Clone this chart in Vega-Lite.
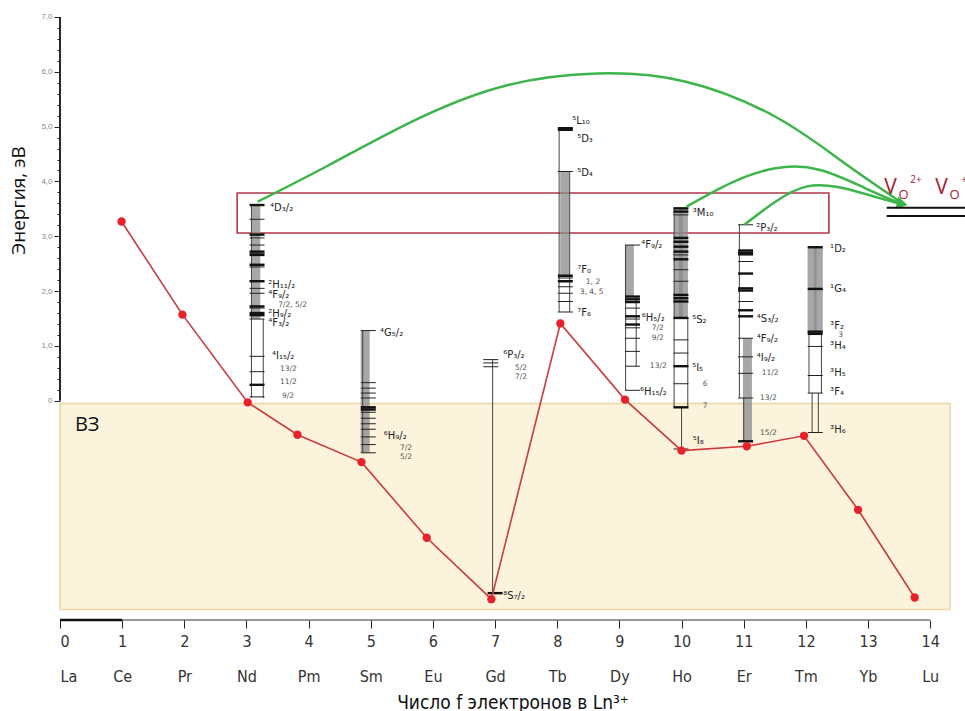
{
  "$schema": "https://vega.github.io/schema/vega-lite/v6.json",
  "width": 905,
  "height": 620,
  "autosize": "none",
  "padding": {"left": 60, "top": 0, "right": 0, "bottom": 91},
  "background": "white",
  "config": {"view": {"stroke": null}},
  "datasets": {
    "pts": [
      {"el": "Ce", "x": 0.99, "y": 3.27},
      {"el": "Pr", "x": 1.97, "y": 1.57},
      {"el": "Nd", "x": 3.02, "y": -0.03},
      {"el": "Pm", "x": 3.82, "y": -0.62},
      {"el": "Sm", "x": 4.85, "y": -1.12},
      {"el": "Eu", "x": 5.9, "y": -2.5},
      {"el": "Gd", "x": 6.94, "y": -3.62},
      {"el": "Tb", "x": 8.05, "y": 1.41},
      {"el": "Dy", "x": 9.09, "y": 0.02},
      {"el": "Ho", "x": 10.0, "y": -0.91},
      {"el": "Er", "x": 11.05, "y": -0.83},
      {"el": "Tm", "x": 11.97, "y": -0.64},
      {"el": "Yb", "x": 12.84, "y": -1.99},
      {"el": "Lu", "x": 13.75, "y": -3.59}
    ],
    "bands": [
      {"el": "Nd", "x": 3.15, "y": 1.49, "y2": 3.57},
      {"el": "Sm", "x": 4.91, "y": -0.95, "y2": 1.28},
      {"el": "Tb", "x": 8.12, "y": 2.28, "y2": 4.18},
      {"el": "Dy", "x": 9.16, "y": 1.9, "y2": 2.84},
      {"el": "Ho", "x": 9.95, "y": 1.51, "y2": 3.51},
      {"el": "Ho", "x": 10.03, "y": 1.51, "y2": 3.51},
      {"el": "Er", "x": 11.06, "y": -0.74, "y2": 1.14},
      {"el": "Tm", "x": 12.1, "y": 1.22, "y2": 2.8},
      {"el": "Tm", "x": 12.2, "y": 1.22, "y2": 2.8}
    ],
    "vlines": [
      {"el": "Nd", "x": 3.08, "y": 0.05, "y2": 3.57},
      {"el": "Nd", "x": 3.27, "y": 0.05, "y2": 1.49},
      {"el": "Sm", "x": 4.87, "y": -0.95, "y2": 1.28},
      {"el": "Gd", "x": 6.96, "y": -3.51, "y2": 0.75},
      {"el": "Tb", "x": 8.03, "y": 1.62, "y2": 4.97},
      {"el": "Tb", "x": 8.2, "y": 1.62, "y2": 4.18},
      {"el": "Dy", "x": 9.1, "y": 0.19, "y2": 2.84},
      {"el": "Dy", "x": 9.27, "y": 0.63, "y2": 1.9},
      {"el": "Ho", "x": 9.88, "y": -0.12, "y2": 3.51},
      {"el": "Ho", "x": 10.1, "y": -0.12, "y2": 1.51},
      {"el": "Ho", "x": 10.0, "y": -0.88, "y2": -0.12},
      {"el": "Er", "x": 10.93, "y": 0.05, "y2": 3.21},
      {"el": "Er", "x": 11.0, "y": -0.74, "y2": 0.05},
      {"el": "Tm", "x": 12.05, "y": 0.14, "y2": 1.26},
      {"el": "Tm", "x": 12.25, "y": 0.14, "y2": 1.26},
      {"el": "Tm", "x": 12.1, "y": -0.58, "y2": 0.14},
      {"el": "Tm", "x": 12.2, "y": -0.58, "y2": 0.14}
    ],
    "levels": [
      {"el": "Nd", "x": 3.17, "y": 3.57, "bold": true},
      {"el": "Nd", "x": 3.17, "y": 3.31, "bold": false},
      {"el": "Nd", "x": 3.17, "y": 3.03, "bold": true},
      {"el": "Nd", "x": 3.17, "y": 2.97, "bold": false},
      {"el": "Nd", "x": 3.17, "y": 2.84, "bold": false},
      {"el": "Nd", "x": 3.17, "y": 2.72, "bold": true},
      {"el": "Nd", "x": 3.17, "y": 2.69, "bold": false},
      {"el": "Nd", "x": 3.17, "y": 2.66, "bold": true},
      {"el": "Nd", "x": 3.17, "y": 2.48, "bold": true},
      {"el": "Nd", "x": 3.17, "y": 2.44, "bold": false},
      {"el": "Nd", "x": 3.17, "y": 2.18, "bold": true},
      {"el": "Nd", "x": 3.17, "y": 2.05, "bold": false},
      {"el": "Nd", "x": 3.17, "y": 1.96, "bold": false},
      {"el": "Nd", "x": 3.17, "y": 1.72, "bold": true},
      {"el": "Nd", "x": 3.17, "y": 1.69, "bold": false},
      {"el": "Nd", "x": 3.17, "y": 1.6, "bold": true},
      {"el": "Nd", "x": 3.17, "y": 1.56, "bold": true},
      {"el": "Nd", "x": 3.17, "y": 1.49, "bold": false},
      {"el": "Nd", "x": 3.17, "y": 0.81, "bold": false},
      {"el": "Nd", "x": 3.17, "y": 0.53, "bold": false},
      {"el": "Nd", "x": 3.17, "y": 0.29, "bold": true},
      {"el": "Nd", "x": 3.17, "y": 0.07, "bold": false},
      {"el": "Sm", "x": 4.96, "y": 1.28, "bold": false},
      {"el": "Sm", "x": 4.96, "y": 0.33, "bold": false},
      {"el": "Sm", "x": 4.96, "y": 0.23, "bold": false},
      {"el": "Sm", "x": 4.96, "y": 0.14, "bold": false},
      {"el": "Sm", "x": 4.96, "y": 0.05, "bold": false},
      {"el": "Sm", "x": 4.96, "y": -0.12, "bold": true},
      {"el": "Sm", "x": 4.96, "y": -0.16, "bold": true},
      {"el": "Sm", "x": 4.96, "y": -0.21, "bold": false},
      {"el": "Sm", "x": 4.96, "y": -0.32, "bold": false},
      {"el": "Sm", "x": 4.96, "y": -0.42, "bold": false},
      {"el": "Sm", "x": 4.96, "y": -0.52, "bold": false},
      {"el": "Sm", "x": 4.96, "y": -0.66, "bold": false},
      {"el": "Sm", "x": 4.96, "y": -0.8, "bold": false},
      {"el": "Sm", "x": 4.96, "y": -0.95, "bold": false},
      {"el": "Gd", "x": 6.93, "y": 0.75, "bold": false},
      {"el": "Gd", "x": 6.93, "y": 0.69, "bold": false},
      {"el": "Gd", "x": 6.93, "y": 0.62, "bold": false},
      {"el": "Gd", "x": 7.0, "y": -3.51, "bold": true},
      {"el": "Tb", "x": 8.13, "y": 4.97, "bold": true},
      {"el": "Tb", "x": 8.13, "y": 4.94, "bold": true},
      {"el": "Tb", "x": 8.13, "y": 4.18, "bold": false},
      {"el": "Tb", "x": 8.13, "y": 2.28, "bold": true},
      {"el": "Tb", "x": 8.13, "y": 2.24, "bold": false},
      {"el": "Tb", "x": 8.13, "y": 2.18, "bold": true},
      {"el": "Tb", "x": 8.13, "y": 2.08, "bold": false},
      {"el": "Tb", "x": 8.13, "y": 1.96, "bold": false},
      {"el": "Tb", "x": 8.13, "y": 1.81, "bold": false},
      {"el": "Tb", "x": 8.13, "y": 1.62, "bold": false},
      {"el": "Dy", "x": 9.21, "y": 2.84, "bold": false},
      {"el": "Dy", "x": 9.21, "y": 1.9, "bold": true},
      {"el": "Dy", "x": 9.21, "y": 1.85, "bold": true},
      {"el": "Dy", "x": 9.21, "y": 1.8, "bold": true},
      {"el": "Dy", "x": 9.21, "y": 1.69, "bold": false},
      {"el": "Dy", "x": 9.21, "y": 1.54, "bold": true},
      {"el": "Dy", "x": 9.21, "y": 1.49, "bold": false},
      {"el": "Dy", "x": 9.21, "y": 1.39, "bold": true},
      {"el": "Dy", "x": 9.21, "y": 1.33, "bold": false},
      {"el": "Dy", "x": 9.21, "y": 1.14, "bold": false},
      {"el": "Dy", "x": 9.21, "y": 0.9, "bold": false},
      {"el": "Dy", "x": 9.21, "y": 0.63, "bold": false},
      {"el": "Dy", "x": 9.21, "y": 0.19, "bold": false},
      {"el": "Ho", "x": 9.99, "y": 3.51, "bold": true},
      {"el": "Ho", "x": 9.99, "y": 3.45, "bold": true},
      {"el": "Ho", "x": 9.99, "y": 3.39, "bold": false},
      {"el": "Ho", "x": 9.99, "y": 2.97, "bold": true},
      {"el": "Ho", "x": 9.99, "y": 2.9, "bold": true},
      {"el": "Ho", "x": 9.99, "y": 2.81, "bold": true},
      {"el": "Ho", "x": 9.99, "y": 2.72, "bold": true},
      {"el": "Ho", "x": 9.99, "y": 2.66, "bold": false},
      {"el": "Ho", "x": 9.99, "y": 2.58, "bold": true},
      {"el": "Ho", "x": 9.99, "y": 2.39, "bold": false},
      {"el": "Ho", "x": 9.99, "y": 2.18, "bold": false},
      {"el": "Ho", "x": 9.99, "y": 1.93, "bold": true},
      {"el": "Ho", "x": 9.99, "y": 1.87, "bold": true},
      {"el": "Ho", "x": 9.99, "y": 1.81, "bold": true},
      {"el": "Ho", "x": 9.99, "y": 1.51, "bold": true},
      {"el": "Ho", "x": 9.99, "y": 1.11, "bold": false},
      {"el": "Ho", "x": 9.99, "y": 0.87, "bold": false},
      {"el": "Ho", "x": 9.99, "y": 0.63, "bold": true},
      {"el": "Ho", "x": 9.99, "y": 0.31, "bold": false},
      {"el": "Ho", "x": 9.99, "y": -0.12, "bold": true},
      {"el": "Ho", "x": 9.99, "y": -0.88, "bold": false},
      {"el": "Er", "x": 11.03, "y": 3.21, "bold": false},
      {"el": "Er", "x": 11.03, "y": 2.74, "bold": true},
      {"el": "Er", "x": 11.03, "y": 2.7, "bold": true},
      {"el": "Er", "x": 11.03, "y": 2.67, "bold": true},
      {"el": "Er", "x": 11.03, "y": 2.54, "bold": false},
      {"el": "Er", "x": 11.03, "y": 2.32, "bold": true},
      {"el": "Er", "x": 11.03, "y": 2.05, "bold": true},
      {"el": "Er", "x": 11.03, "y": 2.01, "bold": true},
      {"el": "Er", "x": 11.03, "y": 1.81, "bold": false},
      {"el": "Er", "x": 11.03, "y": 1.65, "bold": true},
      {"el": "Er", "x": 11.03, "y": 1.54, "bold": true},
      {"el": "Er", "x": 11.03, "y": 1.14, "bold": false},
      {"el": "Er", "x": 11.03, "y": 0.8, "bold": false},
      {"el": "Er", "x": 11.03, "y": 0.5, "bold": false},
      {"el": "Er", "x": 11.03, "y": 0.05, "bold": false},
      {"el": "Er", "x": 11.03, "y": -0.74, "bold": true},
      {"el": "Tm", "x": 12.15, "y": 2.8, "bold": true},
      {"el": "Tm", "x": 12.15, "y": 2.04, "bold": true},
      {"el": "Tm", "x": 12.15, "y": 1.26, "bold": true},
      {"el": "Tm", "x": 12.15, "y": 1.22, "bold": true},
      {"el": "Tm", "x": 12.15, "y": 0.99, "bold": false},
      {"el": "Tm", "x": 12.15, "y": 0.46, "bold": false},
      {"el": "Tm", "x": 12.15, "y": 0.14, "bold": false},
      {"el": "Tm", "x": 12.15, "y": -0.58, "bold": false}
    ],
    "terms": [
      {"x": 3.38, "y": 3.52, "t": "⁴D₃/₂"},
      {"x": 3.35, "y": 2.12, "t": "²H₁₁/₂"},
      {"x": 3.35, "y": 1.93, "t": "⁴F₉/₂"},
      {"x": 3.35, "y": 1.59, "t": "²H₉/₂"},
      {"x": 3.35, "y": 1.41, "t": "⁴F₃/₂"},
      {"x": 3.41, "y": 0.82, "t": "⁴I₁₅/₂"},
      {"x": 5.15, "y": 1.24, "t": "⁴G₅/₂"},
      {"x": 5.21, "y": -0.64, "t": "⁶H₉/₂"},
      {"x": 7.13, "y": 0.84, "t": "⁶P₃/₂"},
      {"x": 7.13, "y": -3.57, "t": "⁸S₇/₂"},
      {"x": 8.24, "y": 5.1, "t": "⁵L₁₀"},
      {"x": 8.32, "y": 4.78, "t": "⁵D₃"},
      {"x": 8.32, "y": 4.16, "t": "⁵D₄"},
      {"x": 8.32, "y": 2.39, "t": "⁷F₀"},
      {"x": 8.32, "y": 1.6, "t": "⁷F₆"},
      {"x": 9.35, "y": 2.84, "t": "⁴F₉/₂"},
      {"x": 9.36, "y": 1.51, "t": "⁶H₅/₂"},
      {"x": 9.33, "y": 0.16, "t": "⁶H₁₅/₂"},
      {"x": 10.18, "y": 3.43, "t": "³M₁₀"},
      {"x": 10.17, "y": 1.48, "t": "⁵S₂"},
      {"x": 10.17, "y": 0.6, "t": "⁵I₅"},
      {"x": 10.18, "y": -0.73, "t": "⁵I₈"},
      {"x": 11.2, "y": 3.15, "t": "²P₃/₂"},
      {"x": 11.21, "y": 1.49, "t": "⁴S₃/₂"},
      {"x": 11.21, "y": 1.13, "t": "⁴F₉/₂"},
      {"x": 11.21, "y": 0.78, "t": "⁴I₉/₂"},
      {"x": 12.39, "y": 2.77, "t": "¹D₂"},
      {"x": 12.39, "y": 2.04, "t": "¹G₄"},
      {"x": 12.39, "y": 1.37, "t": "³F₂"},
      {"x": 12.39, "y": 0.99, "t": "³H₄"},
      {"x": 12.39, "y": 0.51, "t": "³H₅"},
      {"x": 12.39, "y": 0.16, "t": "³F₄"},
      {"x": 12.39, "y": -0.53, "t": "³H₆"}
    ],
    "subterms": [
      {"x": 3.51, "y": 1.75, "t": "7/2, 5/2"},
      {"x": 3.54, "y": 0.57, "t": "13/2"},
      {"x": 3.54, "y": 0.35, "t": "11/2"},
      {"x": 3.57, "y": 0.09, "t": "9/2"},
      {"x": 5.47, "y": -0.86, "t": "7/2"},
      {"x": 5.47, "y": -1.02, "t": "5/2"},
      {"x": 7.32, "y": 0.6, "t": "5/2"},
      {"x": 7.32, "y": 0.44, "t": "7/2"},
      {"x": 8.46, "y": 2.17, "t": "1, 2"},
      {"x": 8.36, "y": 1.99, "t": "3, 4, 5"},
      {"x": 9.52, "y": 1.33, "t": "7/2"},
      {"x": 9.52, "y": 1.15, "t": "9/2"},
      {"x": 9.49, "y": 0.64, "t": "13/2"},
      {"x": 10.34, "y": 0.31, "t": "6"},
      {"x": 10.34, "y": -0.09, "t": "7"},
      {"x": 11.29, "y": 0.51, "t": "11/2"},
      {"x": 11.26, "y": 0.05, "t": "13/2"},
      {"x": 11.26, "y": -0.58, "t": "15/2"},
      {"x": 12.52, "y": 1.19, "t": "3"}
    ],
    "arcs": [
      {"arc": "Nd", "o": 1, "x": 3.18, "y": 3.63},
      {"arc": "Nd", "o": 2, "x": 4.33, "y": 4.3},
      {"arc": "Nd", "o": 3, "x": 5.77, "y": 5.15},
      {"arc": "Nd", "o": 4, "x": 7.21, "y": 5.76},
      {"arc": "Nd", "o": 5, "x": 8.64, "y": 5.97},
      {"arc": "Nd", "o": 6, "x": 10.07, "y": 5.82},
      {"arc": "Nd", "o": 7, "x": 11.51, "y": 5.18},
      {"arc": "Nd", "o": 8, "x": 12.59, "y": 4.36},
      {"arc": "Nd", "o": 9, "x": 13.52, "y": 3.63},
      {"arc": "Ho", "o": 1, "x": 10.08, "y": 3.54},
      {"arc": "Ho", "o": 2, "x": 10.79, "y": 3.97},
      {"arc": "Ho", "o": 3, "x": 11.51, "y": 4.24},
      {"arc": "Ho", "o": 4, "x": 12.23, "y": 4.21},
      {"arc": "Ho", "o": 5, "x": 12.95, "y": 3.88},
      {"arc": "Ho", "o": 6, "x": 13.52, "y": 3.6},
      {"arc": "Er", "o": 1, "x": 11.01, "y": 3.21},
      {"arc": "Er", "o": 2, "x": 11.51, "y": 3.63},
      {"arc": "Er", "o": 3, "x": 12.02, "y": 3.91},
      {"arc": "Er", "o": 4, "x": 12.59, "y": 3.88},
      {"arc": "Er", "o": 5, "x": 13.17, "y": 3.7},
      {"arc": "Er", "o": 6, "x": 13.59, "y": 3.57}
    ]
  },
  "encoding": {
    "x": {
      "field": "x", "type": "quantitative",
      "scale": {"domain": [0, 14.56], "nice": false, "zero": false},
      "axis": {
        "values": [0, 1, 2, 3, 4, 5, 6, 7, 8, 9, 10, 11, 12, 13, 14],
        "domain": false, "grid": false,
        "tickSize": 8, "tickColor": "#222", "tickWidth": 1,
        "labelExpr": "[datum.label, ['La','Ce','Pr','Nd','Pm','Sm','Eu','Gd','Tb','Dy','Ho','Er','Tm','Yb','Lu'][datum.value]]",
        "labelLineHeight": 35,
        "labelFont": "Liberation Sans Narrow, DejaVu Sans Condensed, sans-serif",
        "labelFontSize": 16, "labelColor": "#333", "labelPadding": 5,
        "title": "Число f электронов в Ln³⁺",
        "titleFont": "Liberation Sans Narrow, DejaVu Sans Condensed, sans-serif",
        "titleFontSize": 19, "titleFontWeight": "normal", "titleColor": "#111",
        "titlePadding": 9
      }
    },
    "y": {
      "field": "y", "type": "quantitative",
      "scale": {"domain": [-4, 7.31], "nice": false, "zero": false},
      "axis": {
        "values": [0, 0.2, 0.4, 0.6, 0.8, 1, 1.2, 1.4, 1.6, 1.8, 2, 2.2, 2.4, 2.6, 2.8, 3, 3.2, 3.4, 3.6, 3.8, 4, 4.2, 4.4, 4.6, 4.8, 5, 5.2, 5.4, 5.6, 5.8, 6, 6.2, 6.4, 6.6, 6.8, 7],
        "domain": false, "grid": false,
        "tickColor": "#222",
        "tickSize": {"condition": {"test": "abs(datum.value - round(datum.value)) < 0.01", "value": 6}, "value": 3},
        "labelExpr": "abs(datum.value - round(datum.value)) > 0.01 ? '' : (datum.value == 0 ? '0' : replace(format(datum.value, '.1f'), '.', ','))",
        "labelFontSize": 8, "labelColor": "#888", "labelPadding": 2,
        "title": "Энергия, эВ",
        "titleFont": "Open Sans", "titleFontSize": 19, "titleFontWeight": "normal", "titleColor": "#111",
        "titleX": -32, "titleY": 200
      }
    }
  },
  "layer": [
    {
      "data": {"values": [{"x": 0, "x2": 14.32, "y": -0.05, "y2": -3.81}]},
      "mark": {"type": "rect", "fill": "#fcf3dc", "stroke": "#e9d8a6", "strokeWidth": 1.5},
      "encoding": {"x2": {"field": "x2"}, "y2": {"field": "y2"}}
    },
    {
      "data": {"values": [{"x": 2.85, "x2": 12.37, "y": 3.06, "y2": 3.79}]},
      "mark": {"type": "rect", "fillOpacity": 0, "stroke": "#b03848", "strokeWidth": 1.6},
      "encoding": {"x2": {"field": "x2"}, "y2": {"field": "y2"}}
    },
    {
      "data": {"name": "bands"},
      "mark": {"type": "rule", "strokeWidth": 9, "color": "#8a8a8a", "opacity": 0.75},
      "encoding": {"y2": {"field": "y2"}}
    },
    {
      "data": {"name": "vlines"},
      "mark": {"type": "rule", "strokeWidth": 1, "color": "#444"},
      "encoding": {"y2": {"field": "y2"}}
    },
    {
      "data": {"name": "levels"},
      "transform": [{"filter": "!datum.bold"}],
      "mark": {"type": "tick", "orient": "horizontal", "size": 15, "thickness": 1, "color": "#222", "opacity": 1}
    },
    {
      "data": {"name": "levels"},
      "transform": [{"filter": "datum.bold"}],
      "mark": {"type": "tick", "orient": "horizontal", "size": 15, "thickness": 2.4, "color": "#111", "opacity": 1}
    },
    {
      "data": {"name": "terms"},
      "mark": {"type": "text", "align": "left", "baseline": "middle", "font": "DejaVu Sans", "fontSize": 10, "color": "#222"},
      "encoding": {"text": {"field": "t"}}
    },
    {
      "data": {"name": "subterms"},
      "mark": {"type": "text", "align": "left", "baseline": "middle", "font": "DejaVu Sans", "fontSize": 7.5, "color": "#555"},
      "encoding": {"text": {"field": "t"}}
    },
    {
      "data": {"name": "pts"},
      "mark": {"type": "line", "color": "#cc3a3c", "strokeWidth": 1.6}
    },
    {
      "data": {"name": "pts"},
      "mark": {"type": "point", "filled": true, "color": "#e8202a", "size": 70, "opacity": 1}
    },
    {
      "data": {"name": "arcs"},
      "mark": {"type": "line", "interpolate": "natural", "color": "#3db54a", "strokeWidth": 2.5},
      "encoding": {"detail": {"field": "arc"}, "order": {"field": "o"}}
    },
    {
      "data": {"values": [{"x": 13.55, "y": 3.59}]},
      "mark": {"type": "point", "shape": "triangle-right", "filled": true, "color": "#3db54a", "size": 160, "opacity": 1, "angle": 12}
    },
    {
      "data": {"values": [{"x": 13.3, "x2": 14.56, "y": 3.52}, {"x": 13.3, "x2": 14.56, "y": 3.37}]},
      "mark": {"type": "rule", "strokeWidth": 2.2, "color": "#111"},
      "encoding": {"x2": {"field": "x2"}}
    },
    {
      "data": {"values": [{"x": 13.26, "y": 3.88, "t": "V"}, {"x": 14.08, "y": 3.88, "t": "V"}]},
      "mark": {"type": "text", "align": "left", "baseline": "middle", "font": "Open Sans", "fontSize": 21, "color": "#a3202e"},
      "encoding": {"text": {"field": "t"}}
    },
    {
      "data": {"values": [{"x": 13.49, "y": 3.76, "t": "O"}, {"x": 14.31, "y": 3.76, "t": "O"}]},
      "mark": {"type": "text", "align": "left", "baseline": "middle", "font": "Open Sans", "fontSize": 13, "color": "#a3202e"},
      "encoding": {"text": {"field": "t"}}
    },
    {
      "data": {"values": [{"x": 13.68, "y": 4.03, "t": "2+"}, {"x": 14.5, "y": 4.03, "t": "+"}]},
      "mark": {"type": "text", "align": "left", "baseline": "middle", "font": "Open Sans", "fontSize": 10, "color": "#a3202e"},
      "encoding": {"text": {"field": "t"}}
    },
    {
      "data": {"values": [{"x": 0.24, "y": -0.44, "t": "ВЗ"}]},
      "mark": {"type": "text", "align": "left", "baseline": "middle", "font": "Open Sans", "fontSize": 20, "color": "#111"},
      "encoding": {"text": {"field": "t"}}
    },
    {
      "data": {"values": [{"x": 0, "y": 0, "y2": 7}]},
      "mark": {"type": "rule", "strokeWidth": 1.8, "color": "#111"},
      "encoding": {"y2": {"field": "y2"}}
    },
    {
      "data": {"values": [{"x": 0, "x2": 14, "y": -4}]},
      "mark": {"type": "rule", "strokeWidth": 1, "color": "#333"},
      "encoding": {"x2": {"field": "x2"}}
    },
    {
      "data": {"values": [{"x": 0, "x2": 1, "y": -4}]},
      "mark": {"type": "rule", "strokeWidth": 2.5, "color": "#111"},
      "encoding": {"x2": {"field": "x2"}}
    }
  ]
}
